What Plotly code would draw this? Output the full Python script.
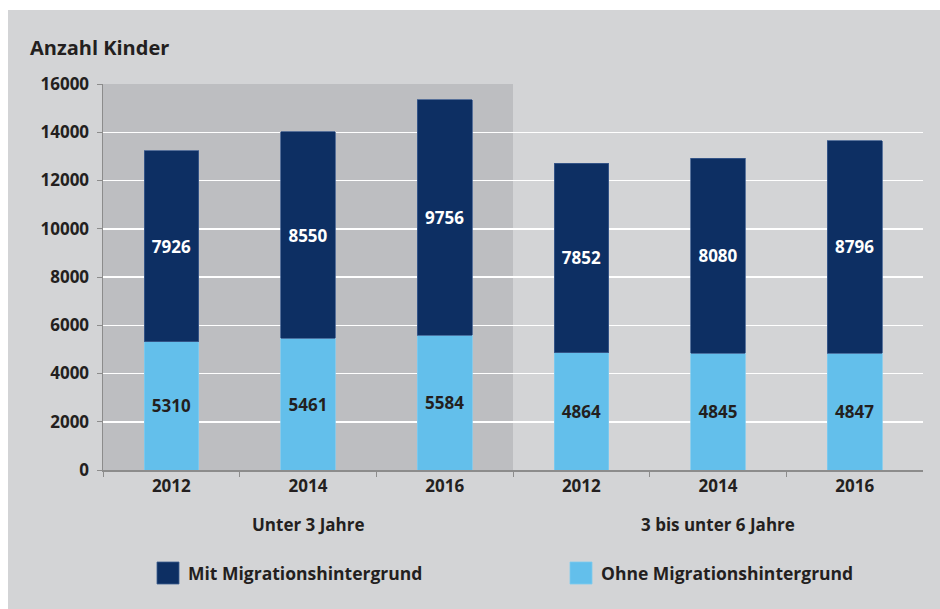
import plotly.graph_objects as go

# Data
years = ["2012", "2014", "2016", "2012", "2014", "2016"]
groups = ["Unter 3 Jahre", "3 bis unter 6 Jahre"]
ohne = [5310, 5461, 5584, 4864, 4845, 4847]
mit = [7926, 8550, 9756, 7852, 8080, 8796]
y_ticks = [0, 2000, 4000, 6000, 8000, 10000, 12000, 14000, 16000]
series_names = ["Mit Migrationshintergrund", "Ohne Migrationshintergrund"]

NAVY = "#0d2f63"
LIGHT = "#63bfeb"
PANEL = "#d3d4d6"
DARK_PANEL = "#bdbec1"
TXT = "#231f20"
AXIS = "#8c8c8c"
FONT = "Open Sans"

W, H = 940, 609
L, R, T, B = 103, 17, 84, 139
PW, PH = W - L - R, H - T - B


def px_x(px):
    return (px - L) / PW


def px_y(py):
    return (H - B - py) / PH


xpos = list(range(len(years)))

fig = go.Figure()
fig.add_trace(go.Bar(
    x=xpos, y=ohne, name=series_names[1], width=0.4,
    marker=dict(color=LIGHT, line=dict(color="#7fcbef", width=0.8)),
    text=[str(v) for v in ohne], textposition="inside", insidetextanchor="middle",
    textfont=dict(family=FONT, size=17, color=TXT, weight="bold"),
    showlegend=False,
))
fig.add_trace(go.Bar(
    x=xpos, y=mit, name=series_names[0], width=0.4,
    marker=dict(color=NAVY, line=dict(color="#3d5d8f", width=0.8)),
    text=[str(v) for v in mit], textposition="inside", insidetextanchor="middle",
    textfont=dict(family=FONT, size=17, color="white", weight="bold"),
    showlegend=False,
))

shapes = [
    # darker background for first group
    dict(type="rect", xref="x", yref="y", x0=-0.5, x1=2.5, y0=0, y1=16000,
         fillcolor=DARK_PANEL, line=dict(width=0), layer="below"),
    # white outer strips
    dict(type="rect", xref="paper", yref="paper", x0=px_x(-5), x1=px_x(W + 5), y0=px_y(10), y1=px_y(-5),
         fillcolor="white", line=dict(width=0), layer="above"),
    dict(type="rect", xref="paper", yref="paper", x0=px_x(-5), x1=px_x(8), y0=px_y(H + 5), y1=px_y(-5),
         fillcolor="white", line=dict(width=0), layer="above"),
    # legend squares
    dict(type="rect", xref="paper", yref="paper", x0=px_x(157), x1=px_x(179), y0=px_y(584), y1=px_y(562),
         fillcolor=NAVY, line=dict(color="#3d5d8f", width=0.8), layer="above"),
    dict(type="rect", xref="paper", yref="paper", x0=px_x(570), x1=px_x(592), y0=px_y(584), y1=px_y(562),
         fillcolor=LIGHT, line=dict(color="#7fcbef", width=0.8), layer="above"),
]

annotations = [
    dict(text="Anzahl Kinder", xref="paper", yref="paper", x=px_x(28), y=px_y(47),
         xanchor="left", yanchor="middle", showarrow=False,
         font=dict(family=FONT, size=20, color=TXT, weight="bold")),
    dict(text=groups[0], xref="x", yref="paper", x=1, y=px_y(524),
         xanchor="center", yanchor="middle", showarrow=False,
         font=dict(family=FONT, size=17, color=TXT, weight="bold")),
    dict(text=groups[1], xref="x", yref="paper", x=4, y=px_y(524),
         xanchor="center", yanchor="middle", showarrow=False,
         font=dict(family=FONT, size=17, color=TXT, weight="bold")),
    dict(text=series_names[0], xref="paper", yref="paper", x=px_x(186), y=px_y(573),
         xanchor="left", yanchor="middle", showarrow=False,
         font=dict(family=FONT, size=17.5, color=TXT, weight="bold")),
    dict(text=series_names[1], xref="paper", yref="paper", x=px_x(599), y=px_y(573),
         xanchor="left", yanchor="middle", showarrow=False,
         font=dict(family=FONT, size=17.5, color=TXT, weight="bold")),
]

fig.update_layout(
    width=W, height=H,
    margin=dict(l=L, r=R, t=T, b=B, pad=0),
    barmode="stack",
    paper_bgcolor=PANEL, plot_bgcolor=PANEL,
    shapes=shapes, annotations=annotations,
    showlegend=False,
    hovermode=False,
    font=dict(family=FONT, color=TXT),
    xaxis=dict(
        range=[-0.5, 5.5], tickmode="array", tickvals=xpos, ticktext=years,
        ticks="", showgrid=False, zeroline=False,
        showline=True, linecolor=AXIS, linewidth=1.5,
        tickfont=dict(family=FONT, size=17, color=TXT, weight="bold"),
        minor=dict(tickmode="array", tickvals=[-0.5, 0.5, 1.5, 2.5, 3.5, 4.5],
                   ticks="outside", ticklen=5, tickcolor=AXIS, tickwidth=1, showgrid=False),
        fixedrange=True,
    ),
    yaxis=dict(
        range=[0, 16000], tickmode="array", tickvals=y_ticks,
        ticktext=[str(v) for v in y_ticks],
        ticks="outside", ticklen=5, tickcolor=AXIS, tickwidth=1,
        showgrid=True, gridcolor="white", gridwidth=1.5, zeroline=False,
        showline=True, linecolor=AXIS, linewidth=1.5,
        tickfont=dict(family=FONT, size=17, color=TXT, weight="bold"),
        ticklabelstandoff=4,
        fixedrange=True,
    ),
    bargap=0.6,
)

fig.write_html(
    "out.html",
    config={"displayModeBar": False, "staticPlot": True},
    post_script="document.body.style.margin='0';document.body.style.overflow='hidden';",
)
